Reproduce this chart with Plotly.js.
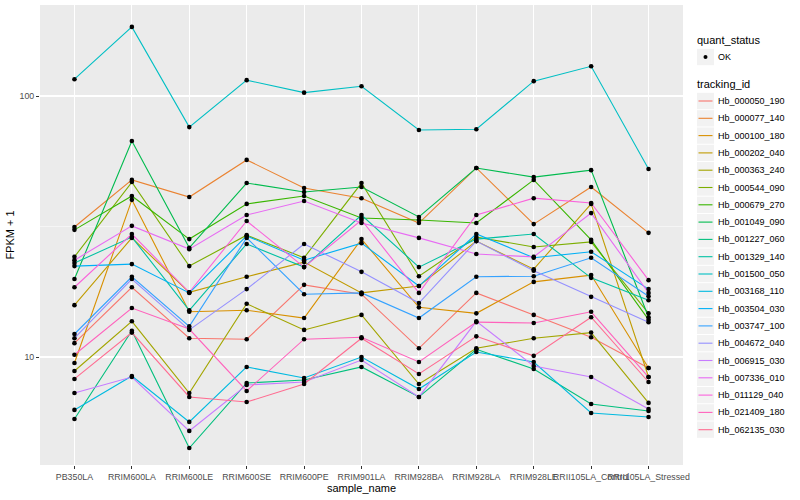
<!DOCTYPE html>
<html>
<head>
<meta charset="utf-8">
<script src="https://cdn.plot.ly/plotly-3.0.1.min.js"></script>
<style>
  html, body { margin: 0; padding: 0; background: #ffffff; }
  #chart { width: 800px; height: 500px; }
</style>
</head>
<body>
<div id="chart"></div>
<script>
// ---- data ----
const samples = ["PB350LA", "RRIM600LA", "RRIM600LE", "RRIM600SE", "RRIM600PE", "RRIM901LA",
  "RRIM928BA", "RRIM928LA", "RRIM928LE", "RRII105LA_Control", "RRII105LA_Stressed"];

const trackingIds = ["Hb_000050_190", "Hb_000077_140", "Hb_000100_180", "Hb_000202_040",
  "Hb_000363_240", "Hb_000544_090", "Hb_000679_270", "Hb_001049_090", "Hb_001227_060",
  "Hb_001329_140", "Hb_001500_050", "Hb_003168_110", "Hb_003504_030", "Hb_003747_100",
  "Hb_004672_040", "Hb_006915_030", "Hb_007336_010", "Hb_011129_040", "Hb_021409_180",
  "Hb_062135_030"];

const quantStatus = ["OK"];

// FPKM + 1 per sample, one array per tracking id
const hb_000050_190 = [11.3, 18.5, 11.8, 11.7, 18.9, 17.4, 10.8, 17.6, 14.5, 11.9, 9.08];
const hb_000077_140 = [31.5, 47.7, 41.0, 56.9, 44.4, 40.6, 32.6, 53.0, 32.3, 44.8, 29.9];
const hb_000100_180 = [9.48, 40.0, 14.9, 15.1, 14.1, 28.3, 15.5, 14.7, 19.4, 20.6, 9.08];
const hb_000202_040 = [15.8, 28.6, 17.7, 20.3, 23.1, 17.6, 18.7, 27.8, 21.7, 38.6, 8.38];
const hb_000363_240 = [8.84, 13.7, 7.28, 16.0, 12.7, 14.5, 7.88, 10.8, 11.8, 12.4, 6.67];
const hb_000544_090 = [24.2, 46.8, 22.3, 29.3, 24.0, 46.4, 20.4, 28.8, 26.4, 27.6, 14.7];
const hb_000679_270 = [30.7, 41.4, 28.3, 38.6, 41.4, 34.1, 33.5, 32.6, 47.7, 28.1, 13.9];
const hb_001049_090 = [19.9, 67.2, 26.2, 46.4, 42.9, 44.8, 34.4, 53.0, 48.9, 52.0, 14.2];
const hb_001227_060 = [5.79, 12.6, 4.48, 7.95, 8.16, 9.16, 7.03, 10.7, 9.00, 6.61, 6.21];
const hb_001329_140 = [22.9, 28.8, 15.1, 27.1, 22.1, 35.0, 22.1, 28.3, 29.6, 20.1, 16.5];
const hb_001500_050 = [116, 184, 76.0, 115, 103, 109, 74.1, 74.6, 114, 130, 52.5];
const hb_003168_110 = [6.27, 8.46, 5.64, 9.16, 8.31, 10.0, 7.54, 10.45, 9.57, 6.10, 5.89];
const hb_003504_030 = [22.3, 22.7, 17.6, 29.1, 23.5, 27.3, 18.7, 29.6, 24.0, 25.3, 18.2];
const hb_003747_100 = [12.25, 20.3, 13.1, 28.6, 17.4, 17.6, 14.1, 20.3, 20.4, 24.0, 17.1];
const hb_004672_040 = [11.8, 19.9, 12.7, 18.2, 27.1, 21.2, 16.1, 27.8, 21.4, 17.0, 13.6];
const hb_006915_030 = [7.28, 8.38, 5.21, 7.81, 8.02, 9.74, 7.03, 13.7, 9.24, 8.38, 6.32];
const hb_007336_010 = [23.5, 31.8, 25.9, 35.0, 39.6, 32.6, 28.6, 24.8, 24.2, 35.6, 17.6];
const hb_011129_040 = [18.5, 29.6, 17.7, 33.2, 22.1, 33.5, 17.6, 35.0, 40.6, 38.9, 19.7];
const hb_021409_180 = [10.2, 15.4, 12.8, 7.41, 11.7, 11.9, 9.57, 13.6, 13.5, 14.9, 8.38];
const hb_062135_030 = [8.24, 12.4, 7.03, 6.72, 7.88, 11.8, 8.61, 12.0, 10.1, 14.2, 8.02];

const seriesValues = [hb_000050_190, hb_000077_140, hb_000100_180, hb_000202_040,
  hb_000363_240, hb_000544_090, hb_000679_270, hb_001049_090, hb_001227_060,
  hb_001329_140, hb_001500_050, hb_003168_110, hb_003504_030, hb_003747_100,
  hb_004672_040, hb_006915_030, hb_007336_010, hb_011129_040, hb_021409_180,
  hb_062135_030];

const yTickValues = [10, 100];
const yTickLabels = ["10", "100"];

// ---- styles ----
const hueColors = ["#F8766D", "#EA8331", "#D89000", "#C09B00", "#A3A500", "#7CAE00",
  "#39B600", "#00BB4E", "#00BF7D", "#00C1A3", "#00BFC4", "#00BAE0", "#00B0F6",
  "#35A2FF", "#9590FF", "#C77CFF", "#E76BF3", "#FA62DB", "#FF62BC", "#FF6C91"];

const FONT = "Liberation Sans, Arial, Helvetica, sans-serif";

const traces = trackingIds.map((id, i) => ({
  type: "scatter",
  mode: "lines",
  name: id,
  x: samples,
  y: seriesValues[i],
  line: { color: hueColors[i], width: 1.1 },
  showlegend: false,
  hoverinfo: "x+y+name"
}));

// all points (quant_status = OK) in black
const allX = [], allY = [];
seriesValues.forEach(vals => vals.forEach((v, j) => { allX.push(samples[j]); allY.push(v); }));
traces.push({
  type: "scatter",
  mode: "markers",
  name: quantStatus[0],
  x: allX,
  y: allY,
  marker: { color: "#000000", size: 4.6 },
  showlegend: false,
  hoverinfo: "x+y"
});

// ---- legend (ggplot-style guide, drawn in paper space) ----
const PL = 40, PR = 683, PT = 5, PB = 465;
const xp = px => (px - PL) / (PR - PL);
const yp = py => (PB - py) / (PB - PT);

const shapes = [];
const annotations = [];
const KEY_L = 697, KEY_R = 714, KEY_H = 17.3, TEXT_X = 716;

function legendTitle(text, cy) {
  annotations.push({ xref: "paper", yref: "paper", x: xp(695), y: yp(cy), xanchor: "left", yanchor: "middle",
    text: text, showarrow: false, font: { family: FONT, size: 11, color: "#000000" } });
}
function legendKey(cy) {
  shapes.push({ type: "rect", xref: "paper", yref: "paper", x0: xp(KEY_L), x1: xp(KEY_R),
    y0: yp(cy - KEY_H / 2 + 0.5), y1: yp(cy + KEY_H / 2 - 0.5), fillcolor: "#F2F2F2", line: { width: 0 }, layer: "below" });
}
function legendLabel(text, cy) {
  annotations.push({ xref: "paper", yref: "paper", x: xp(TEXT_X), y: yp(cy), xanchor: "left", yanchor: "middle",
    text: text, showarrow: false, font: { family: FONT, size: 9, color: "#000000" } });
}

legendTitle("quant_status", 40);
quantStatus.forEach((q, i) => {
  const cy = 57 + i * KEY_H;
  legendKey(cy);
  shapes.push({ type: "circle", xref: "paper", yref: "paper", x0: xp(703.5), x1: xp(707.5),
    y0: yp(cy + 2), y1: yp(cy - 2), fillcolor: "#000000", line: { width: 0 } });
  legendLabel(q, cy);
});

legendTitle("tracking_id", 84);
trackingIds.forEach((id, i) => {
  const cy = 101 + i * KEY_H;
  legendKey(cy);
  shapes.push({ type: "line", xref: "paper", yref: "paper", x0: xp(698.5), x1: xp(712.5),
    y0: yp(cy), y1: yp(cy), line: { color: hueColors[i], width: 1.1 } });
  legendLabel(id, cy);
});

const layout = {
  width: 800,
  height: 500,
  margin: { l: PL, r: 800 - PR, t: PT, b: 500 - PB },
  paper_bgcolor: "#FFFFFF",
  plot_bgcolor: "#EBEBEB",
  font: { family: FONT, color: "#000000" },
  showlegend: false,
  xaxis: {
    type: "category",
    categoryorder: "array",
    categoryarray: samples,
    range: [-0.6, samples.length - 1 + 0.6],
    showgrid: true,
    gridcolor: "#FFFFFF",
    gridwidth: 1.1,
    zeroline: false,
    showline: false,
    ticks: "outside",
    ticklen: 3,
    tickwidth: 1,
    tickcolor: "#333333",
    tickangle: 0,
    tickfont: { family: FONT, size: 8.8, color: "#4D4D4D" },
    title: { text: "sample_name", font: { family: FONT, size: 11, color: "#000000" }, standoff: 3 },
    fixedrange: true
  },
  yaxis: {
    type: "log",
    range: [0.5862, 2.3487],
    tickmode: "array",
    tickvals: yTickValues,
    ticktext: yTickLabels,
    showgrid: true,
    gridcolor: "#FFFFFF",
    gridwidth: 1.1,
    minor: { tickmode: "array", tickvals: [31.62], showgrid: true, gridcolor: "#FFFFFF", gridwidth: 0.5, ticks: "" },
    zeroline: false,
    showline: false,
    ticks: "outside",
    ticklen: 3,
    tickwidth: 1,
    tickcolor: "#333333",
    tickfont: { family: FONT, size: 8.8, color: "#4D4D4D" },
    title: { text: "FPKM + 1", font: { family: FONT, size: 11, color: "#000000" }, standoff: 2 },
    fixedrange: true
  },
  shapes: shapes,
  annotations: annotations
};

Plotly.newPlot("chart", traces, layout, { displayModeBar: false, staticPlot: true });
</script>
</body>
</html>
